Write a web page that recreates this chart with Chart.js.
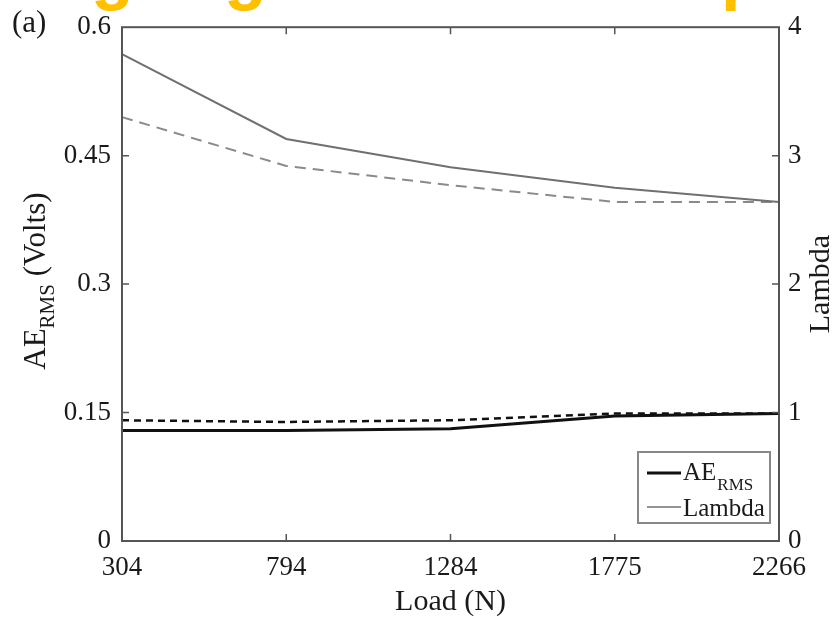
<!DOCTYPE html>
<html lang="en">
<head>
<meta charset="UTF-8">
<title>AE RMS and Lambda vs Load</title>
<script src="https://cdn.jsdelivr.net/npm/chart.js@4"></script>
<style>
    body, html { margin: 0; padding: 0; background: #fff; }
    #wrap { position: relative; width: 838px; height: 619px; overflow: hidden; }
    /* big yellow heading above the figure, only its descenders show */
    .cut {
        position: absolute;
        top: -63px;
        font-family: 'Liberation Sans', Arial, sans-serif;
        font-weight: bold;
        font-size: 70px;
        line-height: 70px;
        color: #ffc000;
    }
</style>
</head>
<body>
<div id="wrap">
    <canvas id="chart" width="838" height="619"></canvas>
    <span class="cut" style="left:91px">g</span>
    <span class="cut" style="left:224px">g</span>
    <span class="cut" style="left:721px">p</span>
</div>
<script>
    // load steps on the x axis
    const loads = ['304', '794', '1284', '1775', '2266'];
    // AE RMS (Volts), left axis
    const aeSolid = [0.129, 0.129, 0.131, 0.146, 0.149];
    const aeDashed = [0.141, 0.139, 0.141, 0.149, 0.149];
    // Lambda, right axis
    const lambdaSolid = [3.79, 3.13, 2.91, 2.75, 2.64];
    const lambdaDashed = [3.30, 2.92, 2.77, 2.64, 2.64];
    // tick values
    const aeTicks = [0, 0.15, 0.3, 0.45, 0.6];
    const lambdaTicks = [0, 1, 2, 3, 4];

    const SERIF = "'Liberation Serif', 'Times New Roman', serif";
    const INK = '#1a1a1a';

    // draws the frame, inward ticks, axis titles with subscripts and the legend
    const decorations = {
        id: 'decorations',
        afterDraw(chart) {
            const ctx = chart.ctx;
            const a = chart.chartArea;
            const x = chart.scales.x, y = chart.scales.y, y1 = chart.scales.y1;
            ctx.save();

            // frame
            ctx.strokeStyle = '#555';
            ctx.lineWidth = 2;
            ctx.strokeRect(a.left, a.top, a.right - a.left, a.bottom - a.top);

            // inward tick marks
            ctx.lineWidth = 1.5;
            ctx.beginPath();
            for (let i = 1; i < loads.length - 1; i++) {
                const px = x.getPixelForValue(i);
                ctx.moveTo(px, a.bottom); ctx.lineTo(px, a.bottom - 7);
                ctx.moveTo(px, a.top); ctx.lineTo(px, a.top + 7);
            }
            aeTicks.slice(1, -1).forEach(v => {
                const py = y.getPixelForValue(v);
                ctx.moveTo(a.left, py); ctx.lineTo(a.left + 7, py);
            });
            lambdaTicks.slice(1, -1).forEach(v => {
                const py = y1.getPixelForValue(v);
                ctx.moveTo(a.right, py); ctx.lineTo(a.right - 7, py);
            });
            ctx.stroke();

            ctx.fillStyle = INK;
            ctx.textBaseline = 'alphabetic';

            // x title
            ctx.font = '30px ' + SERIF;
            ctx.textAlign = 'center';
            ctx.fillText('Load (N)', (a.left + a.right) / 2, 610);

            // right title
            ctx.save();
            ctx.translate(829, (a.top + a.bottom) / 2);
            ctx.rotate(-Math.PI / 2);
            ctx.fillText('Lambda', 0, 0);
            ctx.restore();

            // left title with subscript
            ctx.save();
            ctx.textAlign = 'left';
            const big = '31px ' + SERIF, small = '21px ' + SERIF;
            ctx.font = big;
            const w1 = ctx.measureText('AE').width;
            const w3 = ctx.measureText(' (Volts)').width;
            ctx.font = small;
            const w2 = ctx.measureText('RMS').width;
            const total = w1 + w2 + w3;
            ctx.translate(45, (a.top + a.bottom) / 2 - 3);
            ctx.rotate(-Math.PI / 2);
            let cx = -total / 2;
            ctx.font = big; ctx.fillText('AE', cx, 0); cx += w1;
            ctx.font = small; ctx.fillText('RMS', cx, 9); cx += w2;
            ctx.font = big; ctx.fillText(' (Volts)', cx, 0);
            ctx.restore();

            // panel tag
            ctx.textAlign = 'left';
            ctx.font = '31px ' + SERIF;
            ctx.fillText('(a)', 12, 32);

            // legend
            const lx = 638, ly = 452, lw = 132, lh = 71;
            ctx.fillStyle = '#fff';
            ctx.fillRect(lx, ly, lw, lh);
            ctx.strokeStyle = '#888';
            ctx.lineWidth = 2;
            ctx.strokeRect(lx, ly, lw, lh);

            const dsAE = chart.data.datasets[0], dsL = chart.data.datasets[2];
            ctx.strokeStyle = dsAE.borderColor;
            ctx.lineWidth = dsAE.borderWidth;
            ctx.beginPath(); ctx.moveTo(647, 473); ctx.lineTo(681, 473); ctx.stroke();
            ctx.strokeStyle = dsL.borderColor;
            ctx.lineWidth = 1.5;
            ctx.beginPath(); ctx.moveTo(647, 507); ctx.lineTo(681, 507); ctx.stroke();

            ctx.fillStyle = INK;
            ctx.font = '25px ' + SERIF;
            ctx.fillText('AE', 683, 480);
            const wAE = ctx.measureText('AE').width;
            ctx.font = '17px ' + SERIF;
            ctx.fillText('RMS', 683 + wAE + 1, 490);
            ctx.font = '25px ' + SERIF;
            ctx.fillText('Lambda', 683, 516);

            ctx.restore();
        }
    };

    new Chart(document.getElementById('chart'), {
        type: 'line',
        data: {
            labels: loads,
            datasets: [
                { label: 'AE RMS', data: aeSolid, yAxisID: 'y', borderColor: '#111', borderWidth: 3 },
                { label: 'AE RMS (dashed)', data: aeDashed, yAxisID: 'y', borderColor: '#111', borderWidth: 2.5, borderDash: [7, 5] },
                { label: 'Lambda', data: lambdaSolid, yAxisID: 'y1', borderColor: '#707070', borderWidth: 2 },
                { label: 'Lambda (dashed)', data: lambdaDashed, yAxisID: 'y1', borderColor: '#8a8a8a', borderWidth: 2, borderDash: [11, 7] }
            ]
        },
        options: {
            responsive: false,
            animation: false,
            elements: { point: { radius: 0 }, line: { tension: 0 } },
            layout: { padding: { top: 22, left: 0, right: 0, bottom: 0 } },
            plugins: { legend: { display: false }, tooltip: { enabled: false } },
            scales: {
                x: {
                    offset: false,
                    grid: { display: false, drawTicks: false },
                    border: { display: false },
                    ticks: { autoSkip: false, maxRotation: 0, padding: 11, color: INK, font: { family: SERIF, size: 27 } },
                    afterFit: s => { s.height = 78; }
                },
                y: {
                    position: 'left',
                    min: 0, max: 0.6,
                    grid: { display: false, drawTicks: false },
                    border: { display: false },
                    afterBuildTicks: s => { s.ticks = aeTicks.map(v => ({ value: v })); },
                    ticks: { padding: 11, color: INK, font: { family: SERIF, size: 27 }, callback: v => String(v) },
                    afterFit: s => { s.width = 122; }
                },
                y1: {
                    position: 'right',
                    min: 0, max: 4,
                    grid: { display: false, drawTicks: false },
                    border: { display: false },
                    afterBuildTicks: s => { s.ticks = lambdaTicks.map(v => ({ value: v })); },
                    ticks: { padding: 9, color: INK, font: { family: SERIF, size: 27 }, callback: v => String(v) },
                    afterFit: s => { s.width = 59; }
                }
            }
        },
        plugins: [decorations]
    });
</script>
</body>
</html>
